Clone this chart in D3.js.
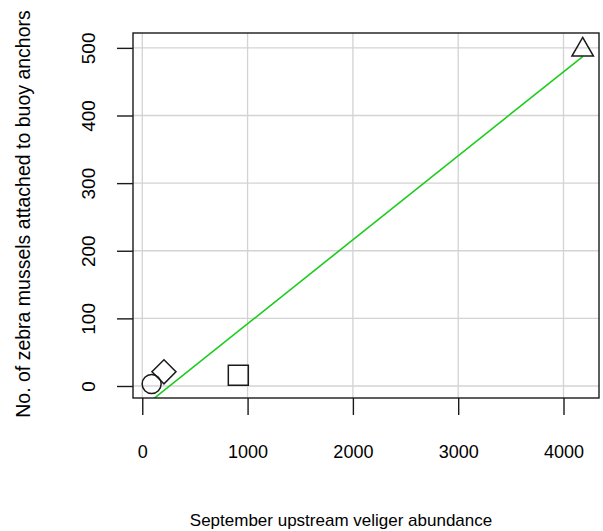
<!DOCTYPE html>
<html>
<head>
<meta charset="utf-8">
<script src="https://cdn.jsdelivr.net/npm/d3@7"></script>
<style>
  body { margin: 0; background: #fff; }
  text { font-family: "Liberation Sans", Arial, sans-serif; fill: #000; }
</style>
</head>
<body>
<svg id="chart"></svg>
<script>
// data
let veliger = [89, 206, 912, 4182];
let mussels = [3, 21, 16, 497];
let shapes = ["circle", "diamond", "square", "triangle"];
let xTicks = [0, 1000, 2000, 3000, 4000];
let yTicks = [0, 100, 200, 300, 400, 500];
let fitIntercept = -32.2;
let fitSlope = 0.1242;

let w = 603;
let h = 531;
let padL = 133, padR = 599, padT = 33, padB = 398;

let svg = d3.select("#chart").attr("width", w).attr("height", h);

let xScale = d3.scaleLinear().domain([-88, 4337]).range([padL, padR]);
let yScale = d3.scaleLinear().domain([-17.75, 522]).range([padB, padT]);

// grid
svg.append("g").selectAll("line").data(xTicks).enter().append("line")
  .attr("x1", d => xScale(d)).attr("x2", d => xScale(d))
  .attr("y1", padT).attr("y2", padB)
  .attr("stroke", "#d3d3d3").attr("stroke-width", 1.3);
svg.append("g").selectAll("line").data(yTicks).enter().append("line")
  .attr("y1", d => yScale(d)).attr("y2", d => yScale(d))
  .attr("x1", padL).attr("x2", padR)
  .attr("stroke", "#d3d3d3").attr("stroke-width", 1.3);

// fitted line, clipped to the plot box
svg.append("clipPath").attr("id", "box").append("rect")
  .attr("x", padL).attr("y", padT).attr("width", padR - padL).attr("height", padB - padT);
let x0 = d3.min(veliger), x1 = d3.max(veliger);
svg.append("line")
  .attr("clip-path", "url(#box)")
  .attr("x1", xScale(x0)).attr("y1", yScale(fitIntercept + fitSlope * x0))
  .attr("x2", xScale(x1)).attr("y2", yScale(fitIntercept + fitSlope * x1))
  .attr("stroke", "#1ccc1c").attr("stroke-width", 1.6);

// box
svg.append("rect")
  .attr("x", padL).attr("y", padT).attr("width", padR - padL).attr("height", padB - padT)
  .attr("fill", "none").attr("stroke", "#1a1a1a").attr("stroke-width", 1.4);

// axes
let xAxis = d3.axisBottom(xScale).tickValues(xTicks).tickSize(17).tickPadding(30).tickFormat(d3.format("d"));
let yAxis = d3.axisLeft(yScale).tickValues(yTicks).tickSize(16).tickPadding(14).tickFormat(d3.format("d"));

let gx = svg.append("g").attr("transform", `translate(0, ${padB})`).call(xAxis);
let gy = svg.append("g").attr("transform", `translate(${padL}, 0)`).call(yAxis);
[gx, gy].forEach(g => {
  g.select(".domain").remove();
  g.selectAll(".tick line").attr("stroke", "#1a1a1a").attr("stroke-width", 1.4);
});
gx.selectAll(".tick text").style("font-size", "18px");
gy.selectAll(".tick text")
  .style("font-size", "19px")
  .attr("text-anchor", "middle")
  .attr("x", 0).attr("y", 0).attr("dy", "0.35em")
  .attr("transform", "translate(-45, 0) rotate(-90)");

// points
let sym = {
  circle: d3.symbol().type(d3.symbolCircle).size(Math.PI * 9.5 * 9.5),
  square: d3.symbol().type(d3.symbolSquare).size(20 * 20),
  diamond: d3.symbol().type(d3.symbolSquare).size(17 * 17),
  triangle: d3.symbol().type(d3.symbolTriangle).size(200)
};
svg.append("g").selectAll("path").data(veliger).enter().append("path")
  .attr("d", (d, i) => sym[shapes[i]]())
  .attr("transform", (d, i) => `translate(${xScale(d)}, ${yScale(mussels[i])})` + (shapes[i] === "diamond" ? " rotate(45)" : ""))
  .attr("fill", "none").attr("stroke", "#1a1a1a").attr("stroke-width", 1.5);

// titles
svg.append("text").attr("x", 341).attr("y", 526).attr("text-anchor", "middle")
  .style("font-size", "17px").text("September upstream veliger abundance");
svg.append("text").attr("transform", `translate(30, 214) rotate(-90)`).attr("text-anchor", "middle")
  .style("font-size", "19.5px").text("No. of zebra mussels attached to buoy anchors");
</script>
</body>
</html>
